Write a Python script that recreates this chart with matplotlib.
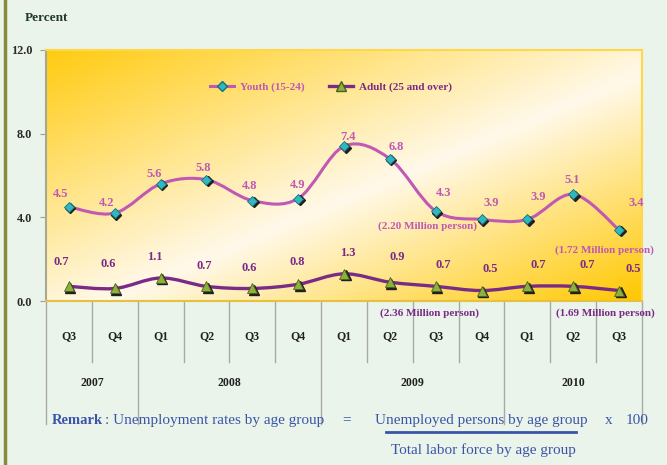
import numpy as np
import matplotlib
matplotlib.use("Agg")
import matplotlib.pyplot as plt
from matplotlib.path import Path
from matplotlib.patches import PathPatch
from matplotlib.lines import Line2D
from matplotlib.colors import LinearSegmentedColormap
import matplotlib.transforms as mtransforms

plt.rcParams['font.family'] = ['Liberation Serif', 'DejaVu Serif']

# Data
quarters = ['Q3', 'Q4', 'Q1', 'Q2', 'Q3', 'Q4', 'Q1', 'Q2', 'Q3', 'Q4', 'Q1', 'Q2', 'Q3']
years = ['2007', '2008', '2009', '2010']
year_span = [(0, 1), (2, 5), (6, 9), (10, 12)]
youth = [4.5, 4.2, 5.6, 5.8, 4.8, 4.9, 7.4, 6.8, 4.3, 3.9, 3.9, 5.1, 3.4]
adult = [0.7, 0.6, 1.1, 0.7, 0.6, 0.8, 1.3, 0.9, 0.7, 0.5, 0.7, 0.7, 0.5]

# label offsets in pixels (dx, dy up)
youth_off = [(-8, 13), (-8, 10), (-6, 10), (-3, 12), (-3, 15), (-1, 14), (4, 9),
             (6, 12), (8, 18), (10, 16), (11, 22), (-1, 14), (17, 27)]
adult_off = [(-8, 24), (-7, 24), (-6, 21), (-2, 20), (-3, 20), (-1, 22), (4, 21),
             (7, 25), (8, 21), (9, 22), (11, 21), (14, 21), (14, 22)]

BG = '#EBF4EA'
YOUTH_C = '#C058B4'
ADULT_C = '#7A2B86'
BLUE = '#3A55A8'

W, H = 667, 465
fig = plt.figure(figsize=(W / 100, H / 100), dpi=100, facecolor=BG)


def fx(px):
    return px / W


def fy(py):
    return 1 - py / H


ax = fig.add_axes([fx(46), fy(301), fx(642) - fx(46), fy(50) - fy(301)])
ax.set_facecolor('none')
ax.set_xlim(-0.5, 12.5)
ax.set_ylim(0, 12)

# gradient background
n = 300
u = np.linspace(0, 1, n)
v = np.linspace(0, 1, n)
U, V = np.meshgrid(u, v)
T = (U + V) / 2
cmap = LinearSegmentedColormap.from_list('g', [(0, '#FFCB10'), (0.55, '#FFF9EA'), (1, '#FFC800')])
ax.imshow(T, cmap=cmap, extent=[0, 1, 0, 1], transform=ax.transAxes,
          aspect='auto', origin='upper', zorder=0, interpolation='bilinear')


def smooth_path(xs, ys):
    pts = np.column_stack([xs, ys]).astype(float)
    verts = [pts[0]]
    codes = [Path.MOVETO]
    k = len(pts)
    for i in range(k - 1):
        p0 = pts[i - 1] if i > 0 else pts[i]
        p1 = pts[i]
        p2 = pts[i + 1]
        p3 = pts[i + 2] if i + 2 < k else pts[i + 1]
        c1 = p1 + (p2 - p0) / 6
        c2 = p2 - (p3 - p1) / 6
        verts += [c1, c2, p2]
        codes += [Path.CURVE4] * 3
    return Path(verts, codes)


x = np.arange(len(quarters))
ax.add_patch(PathPatch(smooth_path(x, youth), fc='none', ec=YOUTH_C, lw=2.2, zorder=3))
ax.add_patch(PathPatch(smooth_path(x, adult), fc='none', ec=ADULT_C, lw=2.4, zorder=3))

shadow = mtransforms.offset_copy(ax.transData, fig=fig, x=1.5, y=-1.5, units='dots')
ax.plot(x, youth, 'D', ms=5.5, color='#202020', transform=shadow, zorder=4)
ax.plot(x, youth, 'D', ms=5.5, mfc='#2FB8C0', mec='#1C6E78', mew=0.6, zorder=5)
ax.plot(x, adult, '^', ms=7, color='#202020', transform=shadow, zorder=4)
ax.plot(x, adult, '^', ms=7, mfc='#8DB23A', mec='#4A6020', mew=0.6, zorder=5)

for i in range(len(x)):
    dx, dy = youth_off[i]
    ax.annotate(f'{youth[i]:.1f}', (x[i], youth[i]), xytext=(dx * 0.72, dy * 0.72),
                textcoords='offset points', ha='center', va='center',
                fontsize=9, fontweight='bold', color=YOUTH_C, zorder=6)
    dx, dy = adult_off[i]
    ax.annotate(f'{adult[i]:.1f}', (x[i], adult[i]), xytext=(dx * 0.72, dy * 0.72),
                textcoords='offset points', ha='center', va='center',
                fontsize=9, fontweight='bold', color=ADULT_C, zorder=6)

# axes styling
ax.set_yticks([0, 4, 8, 12])
ax.set_yticklabels(['0.0', '4.0', '8.0', '12.0'], fontweight='bold', fontsize=8.8, color='#2A2A2A')
ax.tick_params(axis='y', direction='out', length=4, color='#A0A090', pad=6)
ax.set_xticks([])
for s in ['top', 'right']:
    ax.spines[s].set_color('#FFD84A')
    ax.spines[s].set_linewidth(1.5)
ax.spines['left'].set_color('#A8A890')
ax.spines['left'].set_linewidth(1.5)
ax.spines['bottom'].set_color('#E8C040')
ax.spines['bottom'].set_linewidth(1.5)

# category separators & labels
xt = ax.get_xaxis_transform()
year_edges = [-0.5, 1.5, 5.5, 9.5, 12.5]
for b in np.arange(-0.5, 13, 1.0):
    y_end = -0.49 if b in year_edges else -0.243
    ax.add_line(Line2D([b, b], [0, y_end], transform=xt, color='#A8A8A8', lw=1, clip_on=False))
for i, q in enumerate(quarters):
    ax.text(i, -0.139, q, transform=xt, ha='center', va='center',
            fontsize=8.5, fontweight='bold', color='#202020')
for yr, (a, b) in zip(years, year_span):
    ax.text((a + b) / 2, -0.327, yr, transform=xt, ha='center', va='center',
            fontsize=8.5, fontweight='bold', color='#202020')

# legend
handles = [Line2D([], [], color=YOUTH_C, lw=2.2, marker='D', ms=5, mfc='#2FB8C0', mec='#1C6E78'),
           Line2D([], [], color=ADULT_C, lw=2.4, marker='^', ms=6.5, mfc='#8DB23A', mec='#4A6020')]
leg = ax.legend(handles, ['Youth (15-24)', 'Adult (25 and over)'], ncol=2, frameon=False,
                loc='center', prop={'weight': 'bold', 'size': 8}, handlelength=2.2,
                columnspacing=2.2, handletextpad=0.5)
leg.set_bbox_to_anchor(((331 - 46) / 596, 1 - (87 - 50) / 251), transform=ax.transAxes)
leg.get_texts()[0].set_color(YOUTH_C)
leg.get_texts()[1].set_color(ADULT_C)

# notes
fig.text(fx(428), fy(226), '(2.20 Million person)', ha='center', va='center',
         fontsize=8, fontweight='bold', color=YOUTH_C)
fig.text(fx(604), fy(250), '(1.72 Million person)', ha='center', va='center',
         fontsize=8, fontweight='bold', color=YOUTH_C)
fig.text(fx(430), fy(313), '(2.36 Million person)', ha='center', va='center',
         fontsize=8, fontweight='bold', color=ADULT_C)
fig.text(fx(605), fy(313), '(1.69 Million person)', ha='center', va='center',
         fontsize=8, fontweight='bold', color=ADULT_C)

fig.text(fx(25), fy(18), 'Percent', ha='left', va='center', fontsize=9.5,
         fontweight='bold', color='#1E3A28')

# remark
RS = 11
fig.text(fx(52), fy(420), 'Remark', ha='left', va='center', fontsize=10.5,
         fontweight='bold', color=BLUE)
fig.text(fx(105), fy(420), ': Unemployment rates by age group', ha='left', va='center',
         fontsize=RS, color=BLUE)
fig.text(fx(347), fy(420), '=', ha='center', va='center', fontsize=RS, color=BLUE)
fig.text(fx(481), fy(420), 'Unemployed persons by age group', ha='center', va='center',
         fontsize=RS, color=BLUE)
fig.text(fx(609), fy(420), 'x', ha='center', va='center', fontsize=RS, color=BLUE)
fig.text(fx(637), fy(420), '100', ha='center', va='center', fontsize=RS, color=BLUE)
fig.add_artist(Line2D([fx(386), fx(576)], [fy(432), fy(432)], color=BLUE, lw=2))
fig.text(fx(483), fy(450), 'Total labor force by age group', ha='center', va='center',
         fontsize=RS, color=BLUE)

# left border
fig.add_artist(Line2D([fx(5), fx(5)], [0, 1], color='#878A3A', lw=2.5))

fig.savefig('out.png', dpi=100, facecolor=BG)
